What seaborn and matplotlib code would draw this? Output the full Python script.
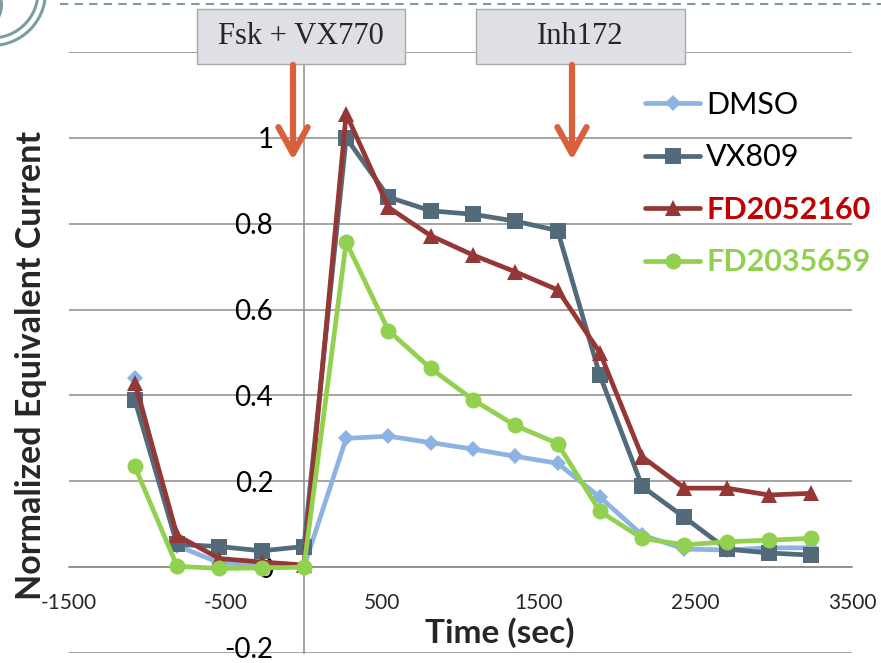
import matplotlib as mpl
mpl.use('Agg')
import matplotlib.pyplot as plt
from matplotlib.patches import Rectangle, Circle, FancyArrowPatch
from matplotlib.lines import Line2D
from matplotlib.transforms import IdentityTransform, ScaledTranslation
import numpy as np
import pandas as pd
import seaborn as sns

W, H = 881, 663

# data
time_sec = [-1080, -810, -540, -270, 0, 270, 540, 810, 1080, 1350, 1620,
            1890, 2160, 2430, 2700, 2970, 3240]
dmso = [0.44, 0.05, 0.01, 0.005, 0.0, 0.30, 0.305, 0.29, 0.275, 0.258, 0.242,
        0.163, 0.075, 0.042, 0.040, 0.045, 0.045]
vx809 = [0.39, 0.053, 0.048, 0.038, 0.048, 1.0, 0.862, 0.830, 0.822, 0.806, 0.784,
         0.447, 0.188, 0.116, 0.042, 0.033, 0.028]
fd2052160 = [0.43, 0.074, 0.02, 0.012, 0.005, 1.056, 0.838, 0.772, 0.727, 0.688, 0.646,
             0.50, 0.257, 0.184, 0.184, 0.168, 0.172]
fd2035659 = [0.235, 0.002, -0.003, -0.002, 0.0, 0.757, 0.551, 0.463, 0.39, 0.330, 0.288,
             0.130, 0.067, 0.052, 0.059, 0.063, 0.067]

treatments = ['DMSO', 'VX809', 'FD2052160', 'FD2035659']
x_ticks = [-1500, -500, 500, 1500, 2500, 3500]
y_ticks = [-0.2, 0, 0.2, 0.4, 0.6, 0.8, 1.0, 1.2]
y_ticklabels = ['-0.2', '0', '0.2', '0.4', '0.6', '0.8', '1', '']

line_colors = ['#8DB3E2', '#536A7A', '#953735', '#92D050']
label_colors = ['#000000', '#000000', '#C00000', '#92D050']
markers = ['D', 's', '^', 'o']
marker_sizes = [8, 11, 12, 11.5]

sns.set_style('white')
plt.rcParams['font.family'] = ['Lato', 'DejaVu Sans']

df = pd.DataFrame({
    'time': time_sec * 4,
    'value': dmso + vx809 + fd2052160 + fd2035659,
    'treatment': np.repeat(treatments, len(time_sec)),
})

fig = plt.figure(figsize=(W / 100, H / 100), dpi=100)
ax = fig.add_axes([69 / W, 1 - 653 / H, (852 - 69) / W, (653 - 52) / H])

for name, c, m, ms in zip(treatments, line_colors, markers, marker_sizes):
    sns.lineplot(data=df[df['treatment'] == name], x='time', y='value',
                 color=c, marker=m, markersize=ms, markeredgewidth=0,
                 linewidth=3.4, label=name, ax=ax, zorder=3)

grey = '#8C8C8C'
ax.set_xlim(-1500, 3500)
ax.set_ylim(-0.2, 1.2)
ax.set_xticks(x_ticks)
ax.set_xticklabels([str(t) for t in x_ticks])
ax.set_yticks(y_ticks)
ax.set_yticklabels(y_ticklabels)
ax.yaxis.grid(True, color=grey, lw=1.1)
ax.xaxis.grid(False)
for s in ['top', 'right']:
    ax.spines[s].set_visible(False)
ax.spines['left'].set_position(('data', 0))
ax.spines['bottom'].set_position(('data', 0))
for s in ['left', 'bottom']:
    ax.spines[s].set_color(grey)
    ax.spines[s].set_linewidth(1.1)
ax.tick_params(axis='y', length=0, pad=22, labelsize=20, labelcolor='black')
ax.tick_params(axis='x', direction='out', length=5.8, width=1.1, color=grey,
               pad=13, labelsize=15, labelcolor='#262626')
ax.set_xlabel('')
ax.set_ylabel('')

# the bottom label sits right on the edge of the picture, lift it a little
bottom_lbl = ax.get_yticklabels()[0]
bottom_lbl.set_transform(bottom_lbl.get_transform()
                         + ScaledTranslation(0, 5 / 100, fig.dpi_scale_trans))

handles, labels = ax.get_legend_handles_labels()
leg = ax.legend(handles, labels, loc='upper left', bbox_to_anchor=(645 / W, 1 - 91 / H),
                bbox_transform=fig.transFigure, frameon=False, fontsize=22,
                handlelength=1.8, handletextpad=0.2, labelspacing=0.8,
                borderpad=0, borderaxespad=0)
for t, c in zip(leg.get_texts(), label_colors):
    t.set_color(c)
    if c != '#000000':
        t.set_fontweight('bold')

idt = IdentityTransform()
fig.text(500, H - 633, 'Time (sec)', transform=idt, ha='center', va='center',
         fontsize=24, fontweight='bold')
fig.text(31, H - 365, 'Normalized Equivalent Current', transform=idt, ha='center',
         va='center', rotation=90, fontsize=24.5, fontweight='bold')

# treatment boxes and arrows
box_fc = '#DFE0E6'
for x0, x1, txt, ax_x in [(197, 405, 'Fsk + VX770', 293), (476, 685, 'Inh172', 572)]:
    fig.add_artist(Rectangle((x0, H - 64), x1 - x0, 55, transform=idt,
                             fc=box_fc, ec='#A8A8A8', lw=1, zorder=5))
    fig.text((x0 + x1) / 2, H - 37, txt, transform=idt, ha='center', va='center',
             fontsize=22, family=['Liberation Serif', 'DejaVu Serif'], zorder=6)
    fig.add_artist(FancyArrowPatch((ax_x, H - 65), (ax_x, H - 160), transform=idt,
                                   arrowstyle='->,head_length=1.9,head_width=1.05',
                                   mutation_scale=10, lw=4.5, color='#D8603D',
                                   shrinkA=0, shrinkB=0, zorder=6))

# slide decoration in the top-left corner
teal = '#7C9D9E'
fig.add_artist(Line2D([60, 881], [H - 4, H - 4], transform=idt, color=teal,
                      lw=1.5, dashes=(4, 3)))
fig.add_artist(Circle((-8, H + 8), 53.5, transform=idt, fill=False, ec=teal, lw=2.2))
fig.add_artist(Circle((-8, H + 8), 46, transform=idt, fill=False, ec=teal, lw=2.2))
fig.add_artist(Circle((-25, H - 5), 28, transform=idt, fc=teal, ec='none'))

fig.savefig('out.png', dpi=100)
